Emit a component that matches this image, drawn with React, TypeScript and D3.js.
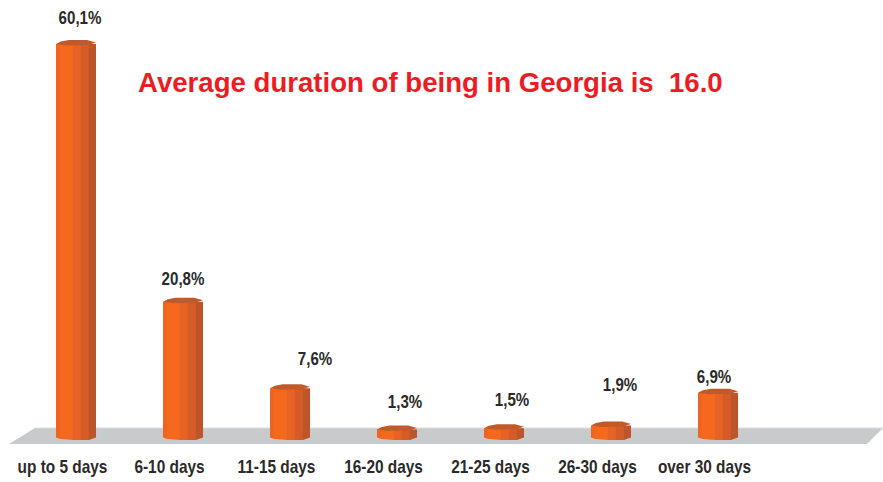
import React from 'react';
import * as d3 from 'd3';

const categories = ['up to 5 days', '6-10 days', '11-15 days', '16-20 days', '21-25 days', '26-30 days', 'over 30 days'];
const values = [60.1, 20.8, 7.6, 1.3, 1.5, 1.9, 6.9];
const valueLabels = ['60,1%', '20,8%', '7,6%', '1,3%', '1,5%', '1,9%', '6,9%'];
// hand placed labels: offset from the bar centre and height above the bar top
const labelDx = [4, 0, 25, 8, 8, 9, -4];
const labelDy = [20, 17, 23, 21.5, 22, 34.5, 10];

const width = 883;
const height = 482;
const floorY = 440;

const x = d3.scaleBand<string>()
  .domain(categories)
  .range([22.5, 771.5])
  .paddingInner(0.626)
  .paddingOuter(0.313);

const y = d3.scaleLinear().domain([0, 60.1]).range([438, 44]);

const line = d3.line();

// bands of the cylinder side, left to right
const sideBands = [
  { from: 0, to: 0.1, color: '#ef6420' },
  { from: 0.1, to: 0.42, color: '#f5691f' },
  { from: 0.42, to: 0.62, color: '#e76325' },
  { from: 0.62, to: 0.82, color: '#d65c27' },
  { from: 0.82, to: 1, color: '#bd552a' },
];

const labelFont = "'Liberation Sans', Arial, sans-serif";

const App: React.FC = () => {
  const w = x.bandwidth();
  const floor = [[9, 444], [35, 428], [883, 428], [867, 444]] as [number, number][];

  return (
    <svg
      width={width}
      height={height}
      style={{ position: 'absolute', left: 0, top: 0, display: 'block', background: '#fff' }}
    >
      <path d={line(floor) || ''} fill="#c9cacb" />
      <line x1={35} x2={883} y1={428} y2={428} stroke="#dcdddd" strokeWidth={1} />

      {categories.map((c, i) => {
        const x0 = x(c) || 0;
        const top = y(values[i]);
        const cx = x0 + w / 2;
        // front of the cylinder ends in a shallow bevel
        const bottom = floorY - 2.5;
        return (
          <g key={c}>
            {sideBands.map((b, j) => {
              const l = x0 + w * b.from;
              const r = x0 + w * b.to;
              const edge = (t: number) => {
                const u = x0 + w * t;
                const d = Math.abs(u - cx) / (w / 2);
                return d > 0.65 ? bottom + (1 - d) / 0.35 * 2.5 : floorY;
              };
              // overlap the next band a little so no seam shows
              const rr = j < sideBands.length - 1 ? r + 0.6 : r;
              return (
                <path
                  key={j}
                  d={line([[l, top], [rr, top], [rr, edge(b.to)], [l, edge(b.from)]]) || ''}
                  fill={b.color}
                />
              );
            })}
            <path
              d={line([
                [x0, top],
                [x0 + w * 0.12, top - 2.5],
                [x0 + w * 0.32, top - 4],
                [x0 + w * 0.78, top - 4],
                [x0 + w, top - 1.5],
                [x0 + w * 0.8, top + 1],
                [x0 + w * 0.25, top + 1.5],
              ]) || ''}
              fill="#c15a2b"
            />
            <text
              transform={`translate(${cx + labelDx[i]},${top - labelDy[i]}) scale(0.84,1)`}
              textAnchor="middle"
              fontFamily={labelFont}
              fontWeight="bold"
              fontSize={18}
              fill="#2b2a29"
            >
              {valueLabels[i]}
            </text>
            <text
              transform={`translate(${cx - 13.5},473) scale(0.88,1)`}
              textAnchor="middle"
              fontFamily={labelFont}
              fontWeight="bold"
              fontSize={17.5}
              fill="#2b2a29"
            >
              {c}
            </text>
          </g>
        );
      })}

      <text
        x={138}
        y={92}
        fontFamily={labelFont}
        fontWeight="bold"
        fontSize={27.6}
        fill="#ed1c24"
        xmlSpace="preserve"
      >
        Average duration of being in Georgia is  16.0
      </text>
    </svg>
  );
};

export default App;
